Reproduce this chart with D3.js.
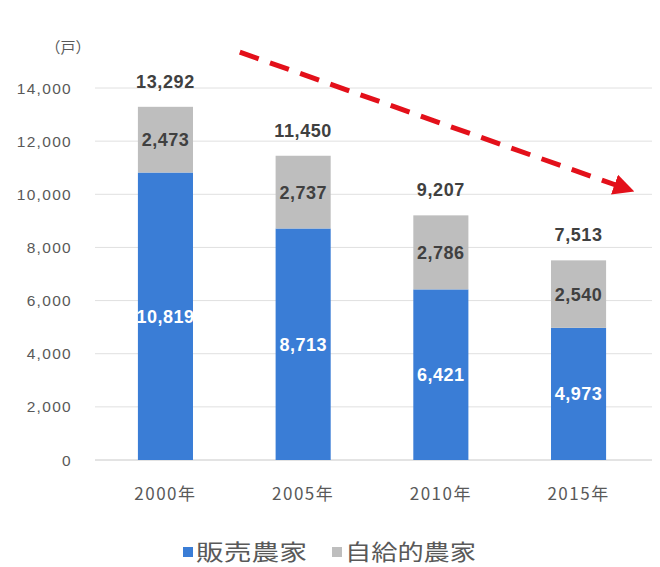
<!DOCTYPE html>
<html><head><meta charset="utf-8">
<script src="https://cdn.jsdelivr.net/npm/d3@7"></script>
<style>
html,body{margin:0;padding:0;background:#fff;}
svg{display:block;}
</style>
</head><body>
<svg id="chart" width="660" height="567"></svg>
<script>
const categories = ["2000年", "2005年", "2010年", "2015年"];
const hanbai = [10819, 8713, 6421, 4973];      // 販売農家
const jikyu = [2473, 2737, 2786, 2540];        // 自給的農家
const totals = [13292, 11450, 9207, 7513];
const yTicks = [0, 2000, 4000, 6000, 8000, 10000, 12000, 14000];
const seriesNames = ["販売農家", "自給的農家"];
const colors = ["#3a7dd6", "#bebebe"];

const svg = d3.select("#chart");
const numFont = "'Liberation Sans', Arial, sans-serif";
const cjkFont = "'Noto Sans CJK JP', 'Liberation Sans', sans-serif";

const x = d3.scaleBand().domain(categories).range([96.6, 647.4]).paddingInner(0.6).paddingOuter(0.3);
const y = d3.scaleLinear().domain([0, 14000]).range([460, 88]);

// gridlines
svg.append("g").selectAll("line").data(yTicks).join("line")
  .attr("x1", 95).attr("x2", 652)
  .attr("y1", d => y(d)).attr("y2", d => y(d))
  .attr("stroke", d => d === 0 ? "#c8c8c8" : "#e0e0e0").attr("stroke-width", 1);

// y tick labels
svg.append("g").selectAll("text").data(yTicks).join("text")
  .attr("x", 72).attr("y", d => y(d)).attr("dy", "0.36em")
  .attr("text-anchor", "end")
  .attr("font-family", numFont).attr("font-size", 15.5).attr("letter-spacing", 1.3)
  .attr("fill", "#595959")
  .text(d => d3.format(",")(d));

// unit
svg.append("text").attr("x", 68).attr("y", 53).attr("text-anchor", "middle")
  .attr("font-family", cjkFont).attr("font-size", 15).attr("fill", "#595959").text("（戸）");

// stacked data
const rows = categories.map((c, i) => ({cat: c, hanbai: hanbai[i], jikyu: jikyu[i], total: totals[i]}));
const stack = d3.stack().keys(["hanbai", "jikyu"])(rows);

const g = svg.append("g");
stack.forEach((layer, li) => {
  g.append("g").selectAll("rect").data(layer).join("rect")
    .attr("x", d => x(d.data.cat)).attr("width", x.bandwidth())
    .attr("y", d => y(d[1])).attr("height", d => y(d[0]) - y(d[1]))
    .attr("fill", colors[li]);
  g.append("g").selectAll("text").data(layer).join("text")
    .attr("x", d => x(d.data.cat) + x.bandwidth() / 2)
    .attr("y", d => (y(d[0]) + y(d[1])) / 2).attr("dy", "0.36em")
    .attr("text-anchor", "middle")
    .attr("font-family", numFont).attr("font-weight", "bold").attr("font-size", 18).attr("letter-spacing", 0.5)
    .attr("fill", li === 0 ? "#ffffff" : "#404040")
    .text(d => d3.format(",")(d[1] - d[0]));
});

// totals
svg.append("g").selectAll("text").data(rows).join("text")
  .attr("x", d => x(d.cat) + x.bandwidth() / 2)
  .attr("y", d => y(d.total) - 19)
  .attr("text-anchor", "middle")
  .attr("font-family", numFont).attr("font-weight", "bold").attr("font-size", 18).attr("letter-spacing", 0.6)
  .attr("fill", "#404040")
  .text(d => d3.format(",")(d.total));

// x labels
svg.append("g").selectAll("text").data(categories).join("text")
  .attr("x", d => x(d) + x.bandwidth() / 2).attr("y", 500)
  .attr("text-anchor", "middle")
  .attr("font-family", cjkFont).attr("font-size", 17).attr("letter-spacing", 1.5)
  .attr("fill", "#595959")
  .text(d => d);

// trend arrow (annotation)
const arrowStart = [x(categories[0]) + x.bandwidth() * 1.85, y(15350)];
const arrowEnd = [x(categories[3]) + x.bandwidth() * 1.55, y(10080)];
const defs = svg.append("defs");
defs.append("marker").attr("id", "ah").attr("viewBox", "0 0 10 10")
  .attr("refX", 6).attr("refY", 5).attr("markerWidth", 4.2).attr("markerHeight", 4.2)
  .attr("orient", "auto").attr("markerUnits", "strokeWidth")
  .append("path").attr("d", "M0,0 L10,5 L0,10 z").attr("fill", "#e3101a");
svg.append("line")
  .attr("x1", arrowStart[0]).attr("y1", arrowStart[1])
  .attr("x2", arrowEnd[0] - 10).attr("y2", arrowEnd[1] - 3.4)
  .attr("stroke", "#e3101a").attr("stroke-width", 5)
  .attr("stroke-dasharray", "20 12")
  .attr("marker-end", "url(#ah)");

// legend
const legend = svg.append("g");
const legX = [183, 332];
const legLen = [111, 131];
seriesNames.forEach((name, i) => {
  legend.append("rect").attr("x", legX[i]).attr("y", 547).attr("width", 10).attr("height", 10)
    .attr("fill", colors[i]);
  legend.append("text").attr("x", legX[i] + 13).attr("y", 552).attr("dy", "0.36em")
    .attr("font-family", cjkFont).attr("font-size", 22)
    .attr("textLength", legLen[i]).attr("lengthAdjust", "spacingAndGlyphs")
    .attr("fill", "#595959").text(name);
});
</script>
</body></html>
